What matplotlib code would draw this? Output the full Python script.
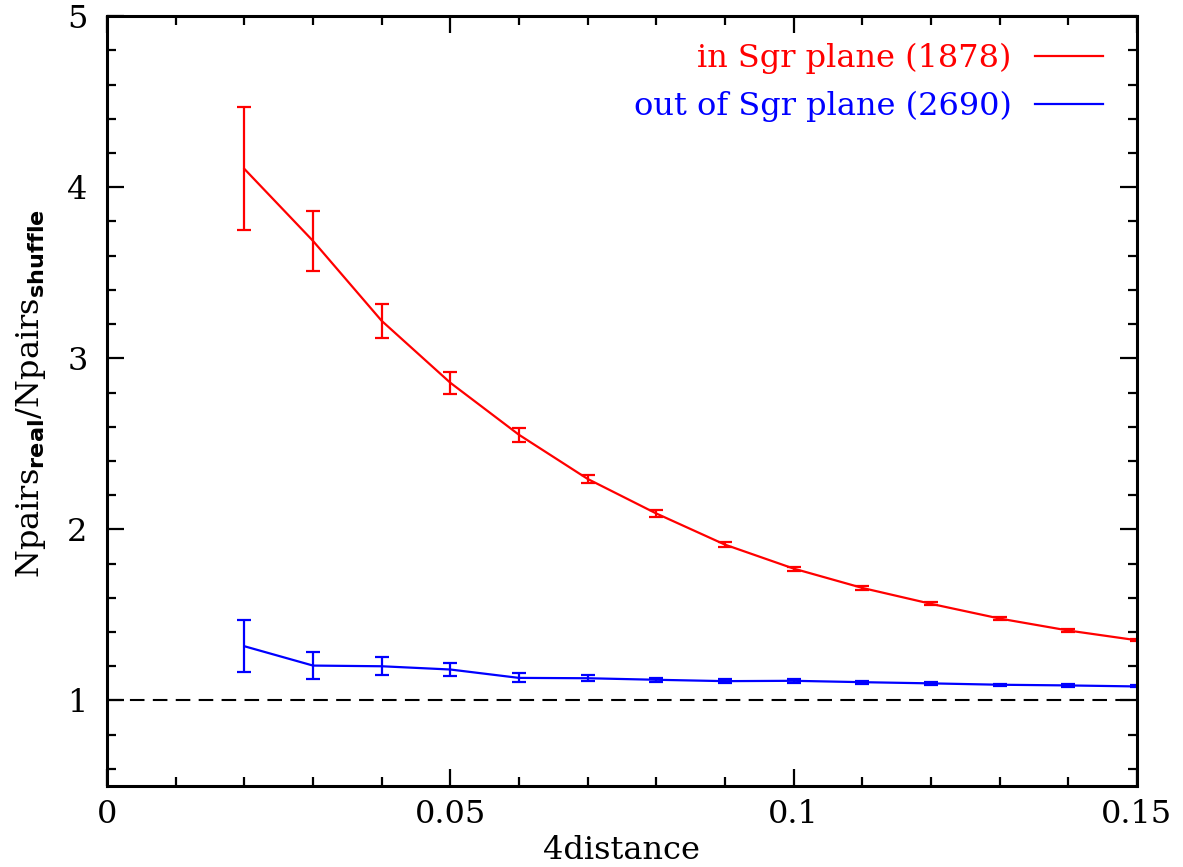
"""Pair-count excess in vs out of the Sgr plane, as a function of 4-distance."""

import numpy as np
import matplotlib

matplotlib.use("Agg")
import matplotlib.pyplot as plt
from matplotlib.lines import Line2D

plt.rcParams["font.family"] = "DejaVu Serif"
plt.rcParams["mathtext.fontset"] = "custom"
plt.rcParams["mathtext.rm"] = "DejaVu Serif"
plt.rcParams["mathtext.bf"] = "DejaVu Sans:bold"

dist = [0.02, 0.03, 0.04, 0.05, 0.06, 0.07, 0.08, 0.09, 0.10, 0.11, 0.12, 0.13, 0.14, 0.15]

in_ratio = [4.107, 3.686, 3.219, 2.857, 2.553, 2.295, 2.093, 1.911, 1.771, 1.658, 1.565, 1.479, 1.409, 1.352]
in_err = [0.36, 0.175, 0.10, 0.065, 0.04, 0.025, 0.018, 0.015, 0.012, 0.010, 0.009, 0.008, 0.007, 0.006]

out_ratio = [1.317, 1.204, 1.200, 1.181, 1.132, 1.130, 1.121, 1.113, 1.115, 1.107, 1.100, 1.092, 1.088, 1.082]
out_err = [0.152, 0.078, 0.053, 0.039, 0.026, 0.016, 0.012, 0.010, 0.010, 0.009, 0.008, 0.007, 0.007, 0.006]

in_label = "in Sgr plane (1878)"
out_label = "out of Sgr plane (2690)"

FS = 23

fig = plt.figure(figsize=(11.83, 8.67), dpi=100)
ax = fig.add_axes([0.0905, 0.0934, 0.8705, 0.888])

ax.errorbar(dist, in_ratio, yerr=in_err, color="red", lw=1.6, elinewidth=1.6,
            capsize=5, capthick=1.6)
ax.errorbar(dist, out_ratio, yerr=out_err, color="blue", lw=1.6, elinewidth=1.6,
            capsize=5, capthick=1.6)
ax.axhline(1.0, color="black", lw=1.5, ls=(0, (7, 4)))

ax.set_xlim(0, 0.15)
ax.set_ylim(0.5, 5)
ax.set_xticks([0, 0.05, 0.1, 0.15])
ax.set_xticklabels(["0", "0.05", "0.1", "0.15"])
ax.set_xticks(np.arange(0, 0.1501, 0.01), minor=True)
ax.set_yticks([1, 2, 3, 4, 5])
ax.set_yticks(np.arange(0.6, 5.0, 0.2), minor=True)

ax.tick_params(which="both", direction="in", top=True, right=True, width=1.6,
               labelsize=FS)
ax.tick_params(axis="x", which="both", pad=9)
ax.tick_params(axis="y", which="both", pad=14)
ax.tick_params(which="major", length=12.5)
ax.tick_params(which="minor", length=6.5)
for s in ax.spines.values():
    s.set_linewidth(2.2)

ax.set_xlabel("4distance", fontsize=FS, labelpad=4)
ax.set_ylabel(r"Npairs$_{\mathbf{real}}$/Npairs$_{\mathbf{shuffle}}$", fontsize=FS)
ax.yaxis.set_label_coords(-0.057, 0.51)

handles = [Line2D([], [], color="red", lw=1.6), Line2D([], [], color="blue", lw=1.6)]
ax.legend(handles, [in_label, out_label], loc="upper right", bbox_to_anchor=(0.993, 1.0),
          frameon=False, markerfirst=False, fontsize=FS, labelcolor="linecolor",
          handlelength=2.1, handletextpad=0.75, labelspacing=0.5,
          borderaxespad=0.3, borderpad=0.55)

fig.savefig("out.png", dpi=100)
